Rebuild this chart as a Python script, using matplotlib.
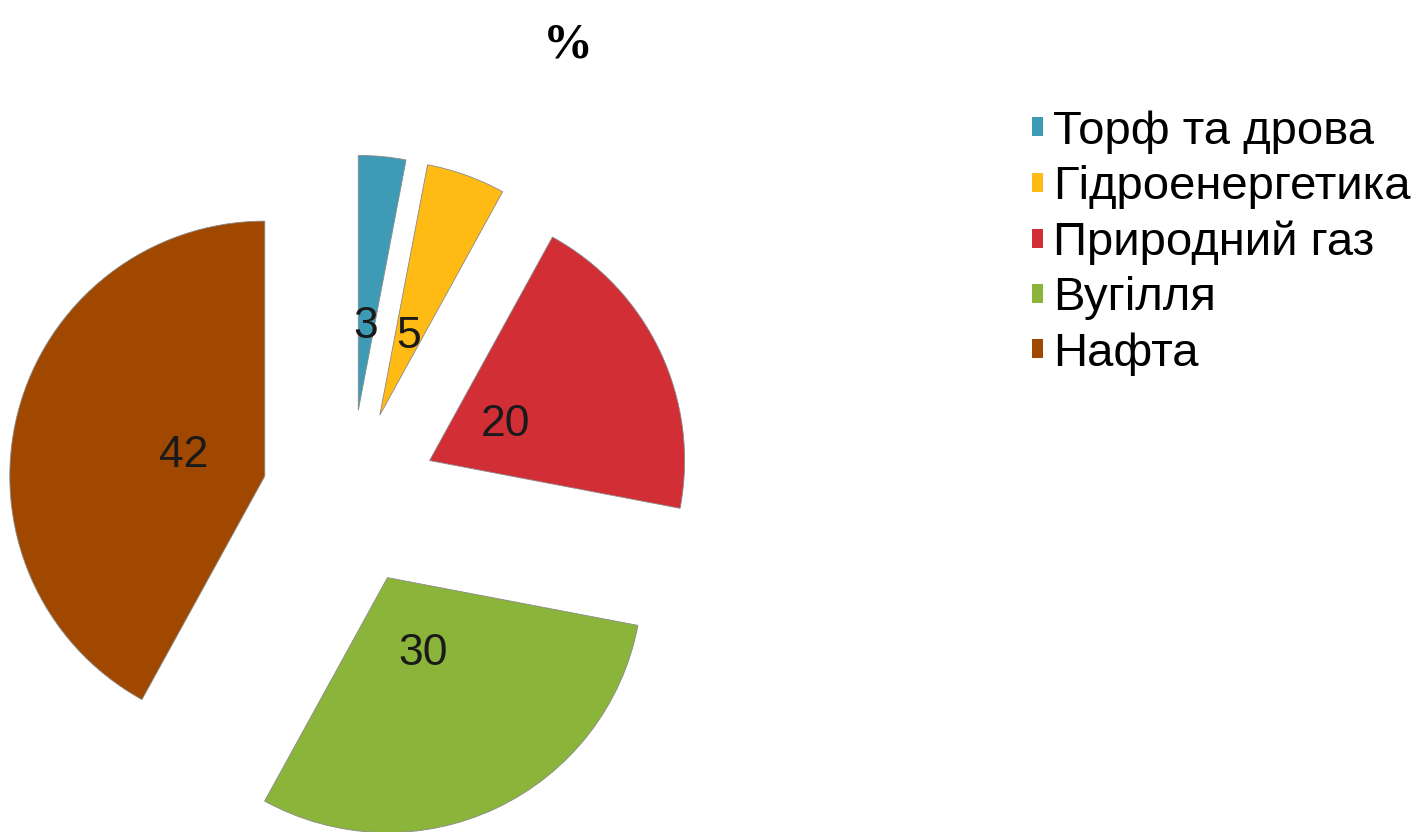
import matplotlib
matplotlib.use('Agg')
import matplotlib.pyplot as plt

labels = ['Торф та дрова', 'Гідроенергетика', 'Природний газ', 'Вугілля', 'Нафта']
values = [3, 5, 20, 30, 42]
colors = ['#3E9BB5', '#FFBA14', '#D22E36', '#8BB43A', '#A04800']
explode = [0.345] * 5

plt.rcParams['font.family'] = ['Liberation Sans', 'DejaVu Sans']

W, H = 1423, 832
fig = plt.figure(figsize=(W / 100, H / 100), dpi=100)
ax = fig.add_axes([0, 0, 1, 1])

wedges, texts = ax.pie(values, colors=colors, explode=explode, startangle=90,
                       counterclock=False, radius=1, labels=[str(v) for v in values],
                       labeldistance=0.33,
                       wedgeprops=dict(edgecolor='#8a8a8a', linewidth=0.6),
                       textprops=dict(fontsize=32, color='#1a1a1a', ha='center', va='center'))

# pie centre at (350, 498) px, radius 255 px
cx, cy, r = 350, 498, 255
ax.set_aspect('auto')
ax.set_xlim((0 - cx) / r, (W - cx) / r)
ax.set_ylim((cy - H) / r, cy / r)
ax.axis('off')

fig.text(568 / W, 1 - 45 / H, '%', fontsize=36, fontweight='bold',
         family='Liberation Serif', ha='center', va='center')

leg = fig.legend(wedges, labels, loc='upper left', bbox_to_anchor=(1032 / W, 1 - 110 / H),
                 frameon=False, fontsize=34, handlelength=0.24, handleheight=0.24,
                 handletextpad=0.2, labelspacing=0.24, borderaxespad=0, borderpad=0)
for h in leg.legend_handles:
    h.set_edgecolor('none')

fig.savefig('out.png', dpi=100)
